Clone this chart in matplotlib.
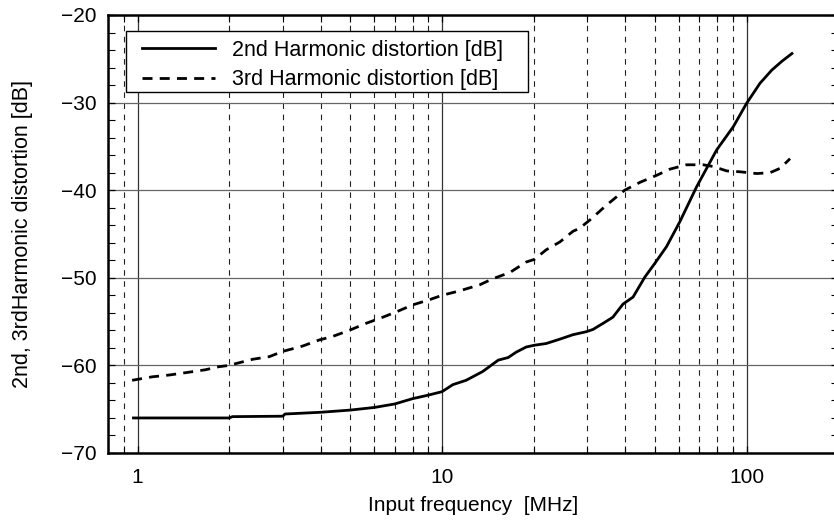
import matplotlib
matplotlib.use('Agg')
import matplotlib.pyplot as plt
from matplotlib.patches import Rectangle
from matplotlib.ticker import LogLocator, MultipleLocator, NullFormatter

plt.rcParams['font.family'] = ['Liberation Sans', 'DejaVu Sans']
plt.rcParams['axes.unicode_minus'] = True

# 2nd harmonic distortion [dB] vs input frequency [MHz]
freq_h2 = [0.97, 2.0, 2.05, 3.0, 3.05, 4.0, 5.0, 6.0, 7.0, 8.0, 9.0, 10.0, 10.85, 12.0,
           13.6, 15.3, 16.5, 17.5, 18.9, 20.1, 22.0, 24.4, 26.9, 29.8, 31.3, 33.8,
           36.4, 39.3, 42.4, 46.4, 50.0, 54.6, 60.4, 68.6, 79.8, 90.5, 100.0, 110.7,
           121.0, 130.5, 141.0]
h2 = [-66.0, -66.0, -65.85, -65.8, -65.55, -65.35, -65.1, -64.8, -64.4, -63.8, -63.4,
      -63.0, -62.2, -61.7, -60.7, -59.4, -59.1, -58.5, -57.9, -57.7, -57.5, -57.0,
      -56.5, -56.15, -55.9, -55.2, -54.5, -53.0, -52.2, -49.9, -48.35, -46.45, -43.6,
      -39.6, -35.4, -32.75, -30.1, -27.8, -26.3, -25.3, -24.4]

# 3rd harmonic distortion [dB]
freq_h3 = [0.96, 1.12, 1.27, 1.46, 1.67, 1.85, 2.0, 2.1, 2.39, 2.71, 3.0, 3.48, 3.95,
           4.37, 4.96, 5.63, 6.39, 7.07, 8.0, 9.1, 10.0, 11.4, 13.3, 14.7, 16.7, 18.9,
           20.1, 22.0, 24.4, 26.9, 28.3, 30.6, 34.7, 39.8, 44.7, 50.7, 56.0, 63.5,
           72.1, 77.8, 86.1, 95.2, 108.0, 119.5, 129.0, 139.0]
h3 = [-61.7, -61.3, -61.1, -60.8, -60.5, -60.15, -60.0, -59.8, -59.3, -59.0, -58.4,
      -57.8, -57.1, -56.7, -56.0, -55.2, -54.5, -53.9, -53.1, -52.5, -52.0, -51.5,
      -50.8, -50.1, -49.4, -48.2, -47.9, -46.8, -45.9, -44.7, -44.35, -43.4, -41.7,
      -40.0, -39.1, -38.3, -37.6, -37.1, -37.1, -37.3, -37.8, -37.9, -38.1, -38.0,
      -37.5, -36.4]

xticks = [1, 10, 100]
xticklabels = ['1', '10', '100']

fig = plt.figure(figsize=(8.34, 5.24), dpi=100)
ax = fig.add_axes([0.1295, 0.1355, 0.8755, 0.8359])

ax.set_xscale('log')
ax.set_xlim(0.8, 200)
ax.set_ylim(-70, -20)

# grid
ax.set_xticks(xticks)
ax.set_xticklabels(xticklabels)
ax.xaxis.set_minor_locator(LogLocator(base=10, subs=range(2, 10)))
ax.xaxis.set_minor_formatter(NullFormatter())
ax.yaxis.set_major_locator(MultipleLocator(10))
ax.yaxis.set_minor_locator(MultipleLocator(2))
ax.grid(which='major', axis='x', color='#333333', linewidth=0.9, linestyle='-')
ax.grid(which='major', axis='y', color='#666666', linewidth=0.9, linestyle='-')
ax.grid(which='minor', axis='x', color='#222222', linewidth=0.8, linestyle=(0, (5, 5)))
ax.set_axisbelow(True)

ax.plot(freq_h2, h2, color='black', linewidth=2.0, linestyle='-',
        label='2nd Harmonic distortion [dB]')
ax.plot(freq_h3, h3, color='black', linewidth=2.0, linestyle=(0, (3.6, 2.6)),
        label='3rd Harmonic distortion [dB]')

ax.tick_params(which='both', direction='in', top=True, right=True, labelsize=15)
ax.tick_params(which='major', length=5, width=0.9)
ax.tick_params(which='minor', length=5, width=0.8)
ax.tick_params(axis='x', which='major', pad=11)
ax.tick_params(axis='y', which='major', pad=8)

for s in ax.spines.values():
    s.set_linewidth(1.8)

ax.set_xlabel('Input frequency  [MHz]', fontsize=15, labelpad=6)
ax.set_ylabel('2nd, 3rdHarmonic distortion [dB]', fontsize=15.5, labelpad=20)

# legend box drawn separately so it can have a wider left/right margin
ax.add_patch(Rectangle((0.0247, 0.8242), 0.5507, 0.1393, transform=ax.transAxes,
                       facecolor='white', edgecolor='black', linewidth=1.0, zorder=4))
leg = ax.legend(loc='upper left', bbox_to_anchor=(0.0466, 0.9430), fontsize=15.5,
                handlelength=3.4, handletextpad=0.8, frameon=False,
                borderpad=0, labelspacing=0.38, borderaxespad=0)
leg.set_zorder(5)

fig.savefig('out.png', dpi=100)
